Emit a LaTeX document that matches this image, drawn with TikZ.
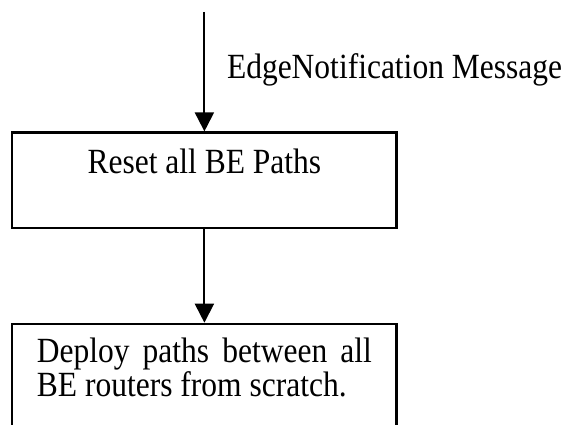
\documentclass[tikz,border=0pt]{standalone}
\usepackage{fontspec}
\setmainfont{Liberation Serif}
\newfontfamily\tallserif[FakeStretch=0.89]{Liberation Serif}
\usetikzlibrary{arrows.meta}
\begin{document}
\begin{tikzpicture}[x=1pt,y=-1pt,
  txt/.style={font=\tallserif\fontsize{35.4}{34}\selectfont},
  boxnode/.style={draw, line width=2.2pt, minimum width=384.2pt, inner sep=0pt, txt},
  flow/.style={line width=2pt, -{Triangle[width=19pt,length=19pt]}},
  lbl/.style={inner sep=0pt, txt}]
\useasboundingbox (0,0) rectangle (563,425);
\clip (0,0) rectangle (563,425);
\node[boxnode, minimum height=95.2pt, text height=25pt, text depth=37.2pt] (reset) at (204.4,180.1) {Reset all BE Paths};
\node[boxnode, anchor=north, text width=335pt, align=justify, inner xsep=24.6pt, inner ysep=13.3pt,
  text height=25pt, text depth=90pt] (deploy) at (204.4,322.7)
  {Deploy paths between all\linebreak BE routers from scratch.};
\coordinate (src) at (204.4,12);
\draw[flow] (src) -- node[lbl, pos=0.56, anchor=base west, xshift=21.6pt] (msg) {EdgeNotification Message} (reset.north);
\draw[flow] (reset.south) -- (deploy.north);
\end{tikzpicture}
\end{document}
